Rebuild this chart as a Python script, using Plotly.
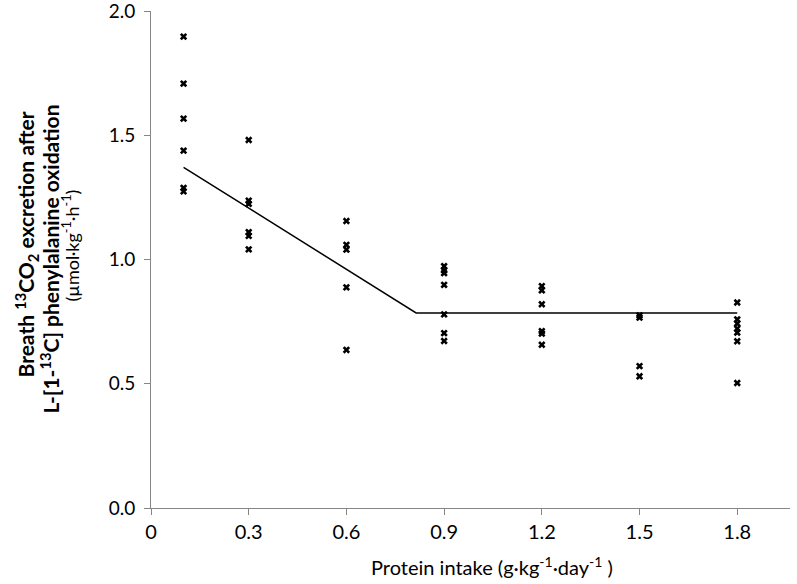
import plotly.graph_objects as go

# Data
intake_levels = [0.1, 0.3, 0.6, 0.9, 1.2, 1.5, 1.8]
oxidation_values = [
    [1.897, 1.708, 1.567, 1.438, 1.288, 1.274],
    [1.481, 1.237, 1.224, 1.110, 1.095, 1.041],
    [1.155, 1.059, 1.040, 0.888, 0.636],
    [0.973, 0.956, 0.945, 0.898, 0.779, 0.704, 0.672],
    [0.893, 0.876, 0.820, 0.712, 0.702, 0.657],
    [0.775, 0.766, 0.571, 0.530],
    [0.827, 0.759, 0.742, 0.722, 0.706, 0.671, 0.503],
]
breakpoint_x = [0.1, 0.814, 1.8]
breakpoint_y = [1.371, 0.785, 0.785]

x_ticks = [0, 0.3, 0.6, 0.9, 1.2, 1.5, 1.8]
x_tick_labels = ["0", "0.3", "0.6", "0.9", "1.2", "1.5", "1.8"]
y_ticks = [0.0, 0.5, 1.0, 1.5, 2.0]
y_tick_labels = ["0.0", "0.5", "1.0", "1.5", "2.0"]

xs, ys = [], []
for lvl, vals in zip(intake_levels, oxidation_values):
    for v in vals:
        xs.append(lvl)
        ys.append(v)

FONT = "Lato, Calibri, Carlito, sans-serif"
AXIS_GRAY = "#868686"

fig = go.Figure()
fig.add_trace(go.Scatter(
    x=xs, y=ys, mode="markers",
    marker=dict(symbol="x", size=6.5, color="black", line=dict(width=0)),
    showlegend=False, hoverinfo="skip",
))
fig.add_trace(go.Scatter(
    x=breakpoint_x, y=breakpoint_y, mode="lines",
    line=dict(color="black", width=1.5),
    showlegend=False, hoverinfo="skip",
))

fig.update_layout(
    width=797, height=584,
    margin=dict(l=151, r=7, t=11, b=76, autoexpand=False),
    paper_bgcolor="white", plot_bgcolor="white",
    font=dict(family=FONT, color="black", size=20),
    xaxis=dict(
        range=[0, 1.962], tickvals=x_ticks, ticktext=x_tick_labels,
        showgrid=False, zeroline=False, showline=True, linecolor=AXIS_GRAY, linewidth=1,
        ticks="outside", ticklen=6, tickcolor=AXIS_GRAY, automargin=False,
        tickfont=dict(size=20, family=FONT), ticklabeloverflow="allow",
    ),
    yaxis=dict(
        range=[0, 2.0], tickvals=y_ticks, ticktext=y_tick_labels,
        showgrid=False, zeroline=False, showline=True, linecolor=AXIS_GRAY, linewidth=1,
        ticks="outside", ticklen=6, tickcolor=AXIS_GRAY, automargin=False,
        tickfont=dict(size=19, family=FONT), ticklabeloverflow="allow",
        ticklabelstandoff=5,
    ),
    annotations=[
        dict(
            text="Protein intake (g·kg<sup>-1</sup>·day<sup>-1</sup> )",
            xref="paper", yref="paper", x=0.5, y=0, xshift=21, yshift=-43,
            xanchor="center", yanchor="top", showarrow=False,
            font=dict(size=20, family=FONT, color="black"),
        ),
        dict(
            text="<b>Breath <sup>13</sup>CO<sub>2</sub> excretion after</b>",
            xref="paper", yref="paper", x=0, y=0.5, xshift=-125, yshift=15,
            xanchor="center", yanchor="middle", textangle=-90, showarrow=False,
            font=dict(size=21, family=FONT, color="black"),
        ),
        dict(
            text="<b>L-[1-<sup>13</sup>C] phenylalanine oxidation</b>",
            xref="paper", yref="paper", x=0, y=0.5, xshift=-102, yshift=0,
            xanchor="center", yanchor="middle", textangle=-90, showarrow=False,
            font=dict(size=21, family=FONT, color="black"),
        ),
        dict(
            text="(µmol·kg<sup>-1</sup>·h<sup>-1</sup>)",
            xref="paper", yref="paper", x=0, y=0.5, xshift=-80, yshift=14,
            xanchor="center", yanchor="middle", textangle=-90, showarrow=False,
            font=dict(size=18, family=FONT, color="black"),
        ),
    ],
)

fig.write_html(
    "out.html",
    config={"displayModeBar": False},
    post_script="document.body.style.margin='0';document.body.style.padding='0';",
)
